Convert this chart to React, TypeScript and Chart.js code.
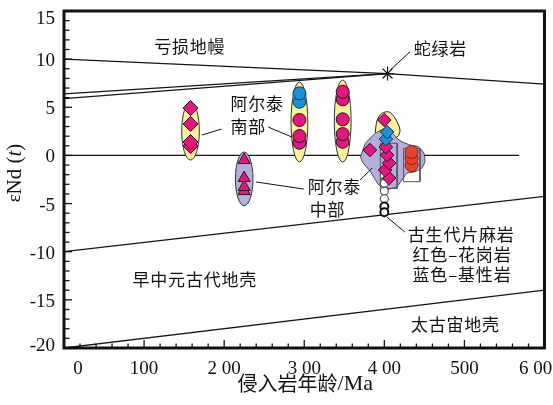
import { useEffect, useRef } from "react";
import { Chart, registerables } from "chart.js";

Chart.register(...registerables);

type Pt = { x: number; y: number };

// ---- Evolution reference lines (age / Ma, εNd(t)) ----
const depletedMantleLine: Pt[] = [{ x: 0, y: 10.0 }, { x: 404, y: 8.5 }, { x: 600, y: 7.4 }];
const mantleUpperLine: Pt[] = [{ x: 0, y: 6.4 }, { x: 404, y: 8.5 }];
const mantleLowerLine: Pt[] = [{ x: 0, y: 5.9 }, { x: 404, y: 8.5 }];
const chondriteLine: Pt[] = [{ x: 0, y: 0 }, { x: 568, y: 0 }];
const proterozoicCrustLine: Pt[] = [{ x: 0, y: -10 }, { x: 600, y: -4.25 }];
const archeanCrustLine: Pt[] = [{ x: 0, y: -20 }, { x: 600, y: -14 }];

// ---- Samples ----
const ophiolite: Pt[] = [{ x: 404, y: 8.5 }];

const southAltaiDiamonds: Pt[] = [
  { x: 158, y: 0.98 }, { x: 158, y: 1.39 }, { x: 158, y: 3.27 }, { x: 158, y: 4.92 },
];
const centralAltaiTriangles: Pt[] = [
  { x: 225, y: -3.7 }, { x: 225, y: -3.28 }, { x: 225, y: -2.35 }, { x: 225, y: -0.48 },
];
const granite300Circles: Pt[] = [
  { x: 294, y: 1.32 }, { x: 294, y: 2.01 }, { x: 294, y: 3.68 },
];
const basic300Circles: Pt[] = [
  { x: 294, y: 5.58 }, { x: 294, y: 6.45 },
];
const granite350Circles: Pt[] = [
  { x: 348, y: 1.42 }, { x: 348, y: 2.22 }, { x: 348, y: 3.75 }, { x: 348, y: 5.83 }, { x: 348, y: 6.61 },
];
const granite400Diamonds: Pt[] = [
  { x: 406, y: -2.35 }, { x: 401, y: -1.52 }, { x: 406, y: -0.79 }, { x: 403.5, y: 0.04 },
  { x: 402, y: 0.87 }, { x: 382, y: 0.56 }, { x: 400, y: 3.68 },
];
const basic400Diamonds: Pt[] = [
  { x: 402, y: 1.7 }, { x: 403.5, y: 2.43 },
];
const granite430Circles: Pt[] = [
  { x: 434, y: -1.0 }, { x: 434, y: -0.27 }, { x: 434, y: 0.35 },
];
const gneissCircles: Pt[] = [
  { x: 400, y: -2.1 }, { x: 400, y: -2.9 }, { x: 400, y: -3.7 }, { x: 400, y: -4.5 },
];
const gneissDarkCircles: Pt[] = [
  { x: 400, y: -5.3 }, { x: 400, y: -5.9 },
];

// ---- Fields ----
// ellipses: centre age, centre εNd, half-width (Ma), half-height (εNd)
const fieldEllipses = [
  { x: 158, y: 2.53, rx: 11, ry: 3.01 },
  { x: 225, y: -2.44, rx: 11, ry: 2.79 },
  { x: 294, y: 3.47, rx: 10.5, ry: 4.15 },
  { x: 348, y: 3.57, rx: 10.5, ry: 4.26 },
];
const yellowBlob: Pt[] = [
  { x: 388.6, y: 2.43 }, { x: 391.1, y: 3.68 }, { x: 397.3, y: 4.4 }, { x: 405.9, y: 4.51 },
  { x: 413.4, y: 3.88 }, { x: 419.6, y: 2.64 }, { x: 415.8, y: 1.91 }, { x: 397.3, y: 1.6 },
  { x: 388.6, y: 2.43 },
];
const paleozoicField: Pt[] = [
  { x: 370.3, y: -0.14 }, { x: 376.5, y: 1.26 }, { x: 388.9, y: 2.3 }, { x: 403.3, y: 2.85 },
  { x: 415.7, y: 1.78 }, { x: 421.9, y: 1.42 }, { x: 432.2, y: 1.08 }, { x: 442.5, y: 0.9 },
  { x: 449.5, y: 0.22 }, { x: 450.7, y: -0.65 }, { x: 446.6, y: -1.34 }, { x: 438.3, y: -1.69 },
  { x: 428.1, y: -1.86 }, { x: 415.7, y: -3.25 }, { x: 403.3, y: -3.52 }, { x: 393.0, y: -3.07 },
  { x: 382.7, y: -1.69 }, { x: 372.4, y: -0.65 }, { x: 370.3, y: -0.14 },
];
const boxLeft: Pt[] = [
  { x: 395, y: 1.26 }, { x: 416, y: 1.26 }, { x: 416, y: -3.42 }, { x: 395, y: -3.42 }, { x: 395, y: 1.26 },
];
const boxRight: Pt[] = [
  { x: 424, y: 0.74 }, { x: 444.5, y: 0.74 }, { x: 444.5, y: -2.73 }, { x: 424, y: -2.73 }, { x: 424, y: 0.74 },
];

// ---- Axis tick labels ----
const xTickValues = [0, 100, 200, 300, 400, 500, 600];
const xTickLabels = ["0", "100", "2 00", "3 00", "4 00", "500", "6 00"];
const yTickValues = [15, 10, 5, 0, -5, -10, -15, -20];
const yTickLabels = ["15", "10", "5", "0", "-5", "-10", "-15", "-20"];

// ---- Annotations (data coordinates) ----
const textNotes = [
  { text: "亏损地幔", x: 157, y: 11.26, align: "center" },
  { text: "蛇绿岩", x: 470, y: 11.15, align: "center" },
  { text: "阿尔泰", x: 207.8, y: 5.44, align: "left" },
  { text: "南部", x: 207.8, y: 2.95, align: "left" },
  { text: "阿尔泰", x: 304.3, y: -3.18, align: "left" },
  { text: "中部", x: 306.8, y: -5.67, align: "left" },
  { text: "古生代片麻岩", x: 496, y: -8.19, align: "center" },
  { text: "红色–花岗岩", x: 497, y: -10.26, align: "center" },
  { text: "蓝色–基性岩", x: 497, y: -12.34, align: "center" },
  { text: "早中元古代地壳", x: 163.3, y: -12.94, align: "center" },
  { text: "太古宙地壳", x: 488.7, y: -17.59, align: "center" },
];
const leaderLines = [
  [432.2, 10.77, 407.4, 8.87],
  [172.0, 2.12, 196.7, 2.74],
  [254.9, 2.95, 284.6, 1.91],
  [240.0, -2.76, 299.4, -3.49],
  [369.9, -2.55, 384.8, -1.31],
  [403.3, -6.4, 425.6, -7.96],
];

const MAGENTA = "#e2177f";
const MAGENTA_EDGE = "#2c0f22";
const BLUE = "#1b90d8";
const BLUE_EDGE = "#123450";
const RED = "#e8432b";
const RED_EDGE = "#8c1d12";
const YELLOW = "#f8f39c";
const LAVENDER = "#b3afdc";
const ellipseFills = [YELLOW, LAVENDER, YELLOW, YELLOW];

const CJK = '"Noto Sans CJK SC", "Noto Sans", sans-serif';
const SERIF = '"Liberation Serif", "Times New Roman", serif';

const refLine = (label: string, data: Pt[]) => ({
  type: "line" as const,
  label,
  data,
  borderColor: "#151515",
  borderWidth: 1.3,
  pointRadius: 0,
  fill: false,
  tension: 0,
  order: 100,
});

const shape = (label: string, data: Pt[], bg: string | undefined, edge: string, order: number, tension = 0) => ({
  type: "line" as const,
  label,
  data,
  borderColor: edge,
  borderWidth: 1,
  backgroundColor: bg ?? "transparent",
  fill: bg ? "shape" : false,
  pointRadius: 0,
  tension,
  order,
});

const markers = (
  label: string,
  data: Pt[],
  pointStyle: string,
  radius: number,
  bg: string,
  edge: string,
  order: number,
  borderWidth = 1
) => ({
  type: "scatter" as const,
  label,
  data,
  pointStyle,
  pointRadius: radius,
  backgroundColor: bg,
  borderColor: edge,
  borderWidth,
  showLine: false,
  order,
});

const diagramPlugin = {
  id: "ndDiagram",
  beforeDatasetDraw(chart: any, args: any) {
    const ds = chart.data.datasets[args.index];
    if (ds.label !== "blob") return;
    const { x, y } = chart.scales;
    const ctx = chart.ctx as CanvasRenderingContext2D;
    fieldEllipses.forEach((e, i) => {
      const cx = x.getPixelForValue(e.x);
      const cy = y.getPixelForValue(e.y);
      const rx = Math.abs(x.getPixelForValue(e.x + e.rx) - cx);
      const ry = Math.abs(y.getPixelForValue(e.y + e.ry) - cy);
      ctx.save();
      ctx.beginPath();
      ctx.ellipse(cx, cy, rx, ry, 0, 0, Math.PI * 2);
      ctx.fillStyle = ellipseFills[i];
      ctx.fill();
      ctx.lineWidth = 1;
      ctx.strokeStyle = "#333";
      ctx.stroke();
      ctx.restore();
    });
  },
  afterDraw(chart: any) {
    const ctx = chart.ctx as CanvasRenderingContext2D;
    const { left, right, top, bottom } = chart.chartArea;
    const { x, y } = chart.scales;
    ctx.save();

    // leader lines
    ctx.strokeStyle = "#111";
    ctx.lineWidth = 1;
    leaderLines.forEach(([x1, y1, x2, y2]) => {
      ctx.beginPath();
      ctx.moveTo(x.getPixelForValue(x1), y.getPixelForValue(y1));
      ctx.lineTo(x.getPixelForValue(x2), y.getPixelForValue(y2));
      ctx.stroke();
    });

    // annotation text
    ctx.fillStyle = "#111";
    ctx.font = `17px ${CJK}`;
    (ctx as any).letterSpacing = "0.8px";
    ctx.textBaseline = "middle";
    textNotes.forEach((n) => {
      ctx.textAlign = n.align as CanvasTextAlign;
      ctx.fillText(n.text, x.getPixelForValue(n.x), y.getPixelForValue(n.y));
    });
    (ctx as any).letterSpacing = "0px";

    // ticks (inward)
    ctx.strokeStyle = "#111";
    ctx.lineWidth = 1.3;
    for (let v = x.min; v <= x.max; v += 20) {
      const px = x.getPixelForValue(v);
      const len = v % 100 === 0 ? 8 : 4.5;
      ctx.beginPath();
      ctx.moveTo(px, bottom);
      ctx.lineTo(px, bottom - len);
      ctx.stroke();
    }
    for (let v = y.min; v <= y.max; v += 1) {
      const py = y.getPixelForValue(v);
      const len = v % 5 === 0 ? 8 : 5.5;
      ctx.beginPath();
      ctx.moveTo(left, py);
      ctx.lineTo(left + len, py);
      ctx.stroke();
    }

    // frame
    ctx.lineWidth = 3;
    ctx.strokeStyle = "#111";
    ctx.strokeRect(left, top, right - left, bottom - top);

    // tick labels
    ctx.fillStyle = "#111";
    ctx.font = `19px ${SERIF}`;
    ctx.textBaseline = "middle";
    ctx.textAlign = "center";
    xTickValues.forEach((v, i) => {
      let px = x.getPixelForValue(v);
      px = Math.max(left + 14, Math.min(right - 9, px));
      ctx.fillText(xTickLabels[i], px, bottom + 21);
    });
    ctx.textAlign = "right";
    yTickValues.forEach((v, i) => {
      let py = y.getPixelForValue(v) + 2;
      py = Math.max(top + 8, Math.min(bottom - 2, py));
      ctx.fillText(yTickLabels[i], left - 9, py);
    });

    // x title
    const cjkPart = "侵入岩年龄";
    const latinPart = "/Ma";
    ctx.font = `20px ${CJK}`;
    const w1 = ctx.measureText(cjkPart).width;
    ctx.font = `22px ${SERIF}`;
    const w2 = ctx.measureText(latinPart).width;
    const cx = (left + right) / 2 + 1;
    let sx = cx - (w1 + w2) / 2;
    ctx.textAlign = "left";
    ctx.font = `20px ${CJK}`;
    ctx.fillText(cjkPart, sx, 383);
    ctx.font = `22px ${SERIF}`;
    ctx.fillText(latinPart, sx + w1, 384);

    // y title: εNd (t)
    ctx.translate(15, 173);
    ctx.rotate(-Math.PI / 2);
    const parts: [string, string][] = [
      ["ε", `19px ${SERIF}`],
      ["Nd (", `21px ${SERIF}`],
      ["t", `italic 21px ${SERIF}`],
      [")", `21px ${SERIF}`],
    ];
    let total = 0;
    parts.forEach(([t, f]) => {
      ctx.font = f;
      total += ctx.measureText(t).width;
    });
    let tx = -total / 2;
    parts.forEach(([t, f]) => {
      ctx.font = f;
      ctx.fillText(t, tx, 0);
      tx += ctx.measureText(t).width;
    });
    ctx.restore();
  },
};

export default function App() {
  const ref = useRef<HTMLCanvasElement>(null);

  useEffect(() => {
    const canvas = ref.current;
    if (!canvas) return;
    const datasets: any[] = [
      refLine("亏损地幔", depletedMantleLine),
      refLine("mantle-upper", mantleUpperLine),
      refLine("mantle-lower", mantleLowerLine),
      refLine("chondrite", chondriteLine),
      refLine("proterozoic", proterozoicCrustLine),
      refLine("archean", archeanCrustLine),
      shape("blob", yellowBlob, YELLOW, "#222", 90, 0.3),
      shape("paleozoic", paleozoicField, LAVENDER, "#444", 80, 0.15),
      shape("box-left", boxLeft, undefined, "#555", 70),
      shape("box-right", boxRight, undefined, "#555", 70),
      markers("片麻岩", gneissCircles, "circle", 4, "#ffffff", "#555", 60, 1.2),
      markers("片麻岩-dark", gneissDarkCircles, "circle", 4, "#ffffff", "#111", 59, 2),
      markers("花岗岩430", granite430Circles, "circle", 6.5, RED, RED_EDGE, 50),
      markers("花岗岩400", granite400Diamonds, "rectRot", 6.8, MAGENTA, MAGENTA_EDGE, 40),
      markers("基性岩400", basic400Diamonds, "rectRot", 6.8, BLUE, BLUE_EDGE, 35),
      markers("中部", centralAltaiTriangles, "triangle", 7, MAGENTA, MAGENTA_EDGE, 30),
      markers("南部", southAltaiDiamonds, "rectRot", 7.5, MAGENTA, MAGENTA_EDGE, 30),
      markers("花岗岩300", granite300Circles, "circle", 6.5, MAGENTA, MAGENTA_EDGE, 25),
      markers("基性岩300", basic300Circles, "circle", 6.5, BLUE, BLUE_EDGE, 24),
      markers("花岗岩350", granite350Circles, "circle", 6.5, MAGENTA, MAGENTA_EDGE, 25),
      markers("蛇绿岩", ophiolite, "star", 7, "#111", "#111", 10, 1.2),
    ];

    const chart = new Chart(canvas, {
      type: "scatter",
      data: { datasets },
      options: {
        animation: false,
        responsive: false,
        maintainAspectRatio: false,
        events: [],
        layout: { padding: { left: 64, right: 4, top: 11, bottom: 57 } },
        scales: {
          x: { type: "linear", min: 0, max: 600, display: false },
          y: { type: "linear", min: -20, max: 15, display: false },
        },
        plugins: {
          legend: { display: false },
          tooltip: { enabled: false },
        },
      },
      plugins: [diagramPlugin],
    } as any);

    return () => chart.destroy();
  }, []);

  return (
    <div style={{ position: "fixed", left: 0, top: 0, width: 553, height: 405, background: "#fff" }}>
      <canvas ref={ref} width={553} height={405} style={{ display: "block", width: 553, height: 405 }} />
    </div>
  );
}
